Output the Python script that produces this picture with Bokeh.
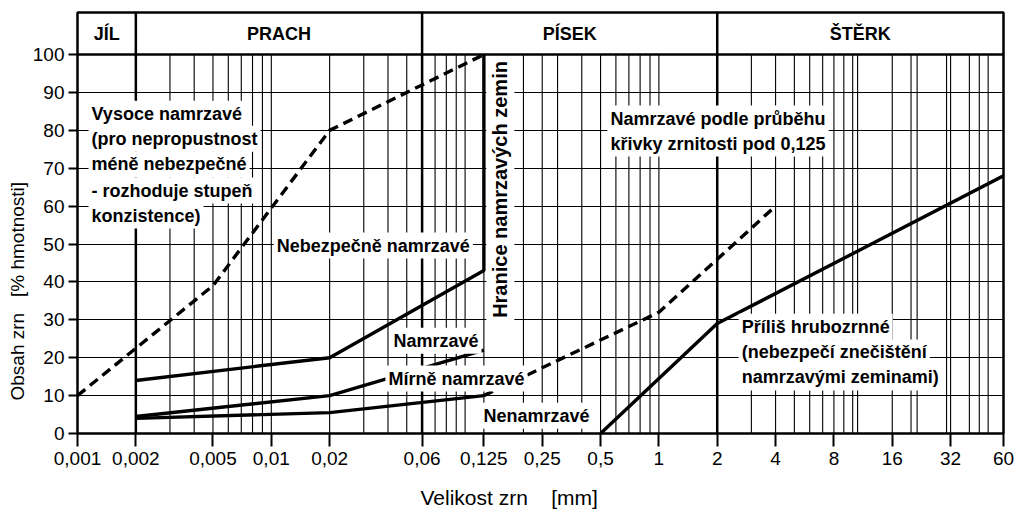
import math
from bokeh.plotting import figure
from bokeh.models import FixedTicker, CustomJSTickFormatter, Label, Range1d, Title
from bokeh.embed import file_html
from bokeh.resources import INLINE

# ---- axes / categories ----
x_ticks = [0.001, 0.002, 0.005, 0.01, 0.02, 0.06, 0.125, 0.25, 0.5, 1, 2, 4, 8, 16, 32, 60]
y_ticks = [0, 10, 20, 30, 40, 50, 60, 70, 80, 90, 100]
fraction_names = ["JÍL", "PRACH", "PÍSEK", "ŠTĚRK"]
fraction_bounds = [0.001, 0.002, 0.06, 2, 60]
grid_x = [0.003, 0.004, 0.005, 0.006, 0.007, 0.008, 0.009, 0.01,
          0.02, 0.03, 0.04, 0.05, 0.07, 0.08, 0.09, 0.1, 0.125,
          0.2, 0.25, 0.3, 0.4, 0.5, 0.6, 0.7, 0.8, 0.9, 1,
          3, 4, 5, 6, 7, 8, 9, 10, 10.6, 16, 20, 21.5, 30.5, 32, 40, 45, 50]

# ---- series (grain size mm, % by mass) ----
vysoce_x = [0.001, 0.005, 0.02, 0.125]
vysoce_y = [10, 39, 80, 100]
hranice_x = [0.002, 0.02, 0.125, 0.125]
hranice_y = [14, 20, 43, 100]
mirne_x = [0.002, 0.02, 0.125]
mirne_y = [4.5, 10, 22]
nenamrz_x = [0.002, 0.02, 0.125]
nenamrz_y = [4, 5.5, 10]
podle_x = [0.125, 1, 4]
podle_y = [10, 32, 60]
hrubo_x = [0.5, 2, 60]
hrubo_y = [0, 29, 68]

FONT = "Liberation Sans"
TOP = 111.1

p = figure(width=1024, height=526, x_axis_type="log",
           x_range=Range1d(0.001, 60), y_range=Range1d(0, TOP),
           output_backend="svg", toolbar_location=None,
           min_border_left=77, min_border_right=21, min_border_top=12, min_border_bottom=93)
p.outline_line_color = "black"
p.outline_line_width = 2.5
p.background_fill_color = "white"
p.border_fill_color = "white"

# axes
p.xaxis.ticker = FixedTicker(ticks=x_ticks, minor_ticks=[])
p.xaxis.formatter = CustomJSTickFormatter(code="return String(tick).replace('.', ',');")
p.yaxis.ticker = FixedTicker(ticks=y_ticks, minor_ticks=[])
for ax in (p.xaxis, p.yaxis):
    ax.axis_line_color = None
    ax.major_tick_line_color = "black"
    ax.major_tick_line_width = 2
    ax.major_tick_in = 0
    ax.minor_tick_line_color = None
    ax.major_label_text_font = FONT
    ax.major_label_text_font_size = "19px"
    ax.major_label_text_color = "black"
p.xaxis.major_tick_out = 13
p.xaxis.major_label_standoff = 5
p.yaxis.major_tick_out = 9
p.yaxis.major_label_standoff = 4

# axis titles
p.add_layout(Title(text="Obsah zrn\u00a0\u00a0\u00a0[% hmotnosti]", align="left", offset=33,
                   text_font=FONT, text_font_size="19px", text_font_style="normal",
                   text_color="black", standoff=4), "left")
p.add_layout(Title(text="Velikost zrn\u00a0\u00a0\u00a0\u00a0[mm]", align="left", offset=343,
                   text_font=FONT, text_font_size="21px", text_font_style="normal",
                   text_color="black", standoff=33), "below")

p.xgrid.visible = False
p.ygrid.ticker = FixedTicker(ticks=y_ticks[1:-1])
p.ygrid.grid_line_color = "black"
p.ygrid.grid_line_width = 1
p.ygrid.grid_line_alpha = 1

# vertical grid
p.segment(x0=grid_x, y0=[0] * len(grid_x), x1=grid_x, y1=[100] * len(grid_x),
          line_color="black", line_width=1.1)
# fraction dividers + header line
inner = fraction_bounds[1:-1]
p.segment(x0=inner, y0=[0] * len(inner), x1=inner, y1=[TOP] * len(inner),
          line_color="black", line_width=2.5)
p.segment(x0=[fraction_bounds[0]], y0=[100], x1=[fraction_bounds[-1]], y1=[100],
          line_color="black", line_width=2.5)

# curves
p.line(vysoce_x, vysoce_y, line_color="black", line_width=3.4, line_dash="10 6")
p.line(hranice_x, hranice_y, line_color="black", line_width=3.4)
p.line(mirne_x, mirne_y, line_color="black", line_width=3.4)
p.line(nenamrz_x, nenamrz_y, line_color="black", line_width=3.4)
p.line(podle_x, podle_y, line_color="black", line_width=3.4, line_dash="10 6")
p.line(hrubo_x, hrubo_y, line_color="black", line_width=3.4)


def lab(x, y, text, align="left", angle=0.0, bg=True, size="18px"):
    p.add_layout(Label(x=x, y=y, text=text, text_font=FONT,
                       text_font_size=size, text_font_style="bold",
                       text_align=align, text_baseline="middle", angle=angle,
                       text_color="black",
                       background_fill_color="white" if bg else None,
                       background_fill_alpha=1.0 if bg else 0.0, padding=3))


# header
for i, name in enumerate(fraction_names):
    xc = math.sqrt(fraction_bounds[i] * fraction_bounds[i + 1])
    lab(xc, 105.5, name, align="center", bg=False)

for t, yy in zip(["Vysoce namrzavé", "(pro nepropustnost", "méně nebezpečné",
                  "- rozhoduje stupeň", "konzistence)"], [84.4, 77.8, 71.0, 64.1, 57.5]):
    lab(0.00114, yy, t)
lab(0.0103, 49.6, "Nebezpečně namrzavé")
lab(0.0412, 24.5, "Namrzavé")
lab(0.0388, 14.5, "Mírně namrzavé")
lab(0.120, 4.7, "Nenamrzavé")
lab(0.543, 83.1, "Namrzavé podle průběhu")
lab(0.543, 76.5, "křivky zrnitosti pod 0,125")
lab(2.58, 28.2, "Příliš hrubozrnné")
lab(2.58, 21.4, "(nebezpečí znečištění")
lab(2.58, 14.8, "namrzavými zeminami)")
lab(0.152, 64.4, "Hranice namrzavých zemin", align="center", angle=math.pi / 2, size="20px")

open("out.html", "w").write(file_html(p, INLINE))
